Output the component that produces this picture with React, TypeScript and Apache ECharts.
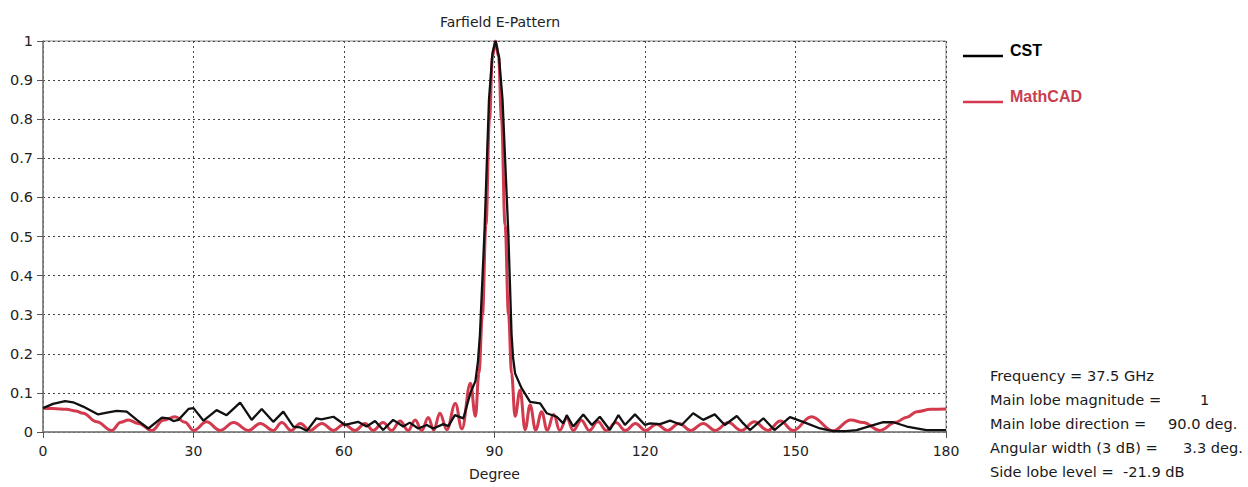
import React, { useEffect, useRef } from "react";
import * as echarts from "echarts";

const cstDegree = [0, 2, 4.4, 6, 8, 9.5, 11, 13, 14.7, 16.7, 18.7, 21, 23.7, 25, 26, 27, 29, 30, 32, 34.6, 36.6, 39.3, 41.6, 43.6, 45.9, 47.9, 49.9, 51.2, 52.6, 54.5, 55.5, 57.9, 60.2, 62.8, 64.5, 66.2, 67.8, 69.8, 71.8, 73.1, 74.8, 76.5, 77.8, 79.8, 80.8, 82.1, 83.8, 85.2, 86.2, 86.7, 87.1, 88.0, 88.9, 89.6, 90.2, 90.9, 91.6, 92.75, 93.4, 93.7, 94.1, 95.4, 97.1, 99.1, 100.4, 102.4, 103.7, 104.4, 105.7, 107.7, 109.4, 111, 113, 114.7, 116, 118, 120, 121, 123, 125, 127.3, 129.6, 131.6, 133.9, 135.9, 138.3, 139.3, 140.9, 143.6, 145.8, 148.9, 151.5, 154.9, 157.5, 160, 162.2, 164.8, 167.5, 169.5, 172.2, 176.1, 180];
const cstMagnitude = [0.061, 0.072, 0.079, 0.076, 0.065, 0.055, 0.045, 0.05, 0.054, 0.052, 0.031, 0.009, 0.037, 0.035, 0.028, 0.031, 0.059, 0.061, 0.029, 0.056, 0.043, 0.075, 0.031, 0.059, 0.026, 0.052, 0.014, 0.012, 0.003, 0.035, 0.032, 0.039, 0.018, 0.026, 0.014, 0.028, 0.005, 0.031, 0.014, 0.024, 0.009, 0.018, 0.009, 0.02, 0.015, 0.043, 0.035, 0.1, 0.13, 0.18, 0.25, 0.51, 0.85, 0.97, 1.0, 0.96, 0.85, 0.51, 0.25, 0.19, 0.15, 0.112, 0.077, 0.073, 0.048, 0.039, 0.022, 0.043, 0.014, 0.045, 0.018, 0.039, 0.005, 0.043, 0.018, 0.045, 0.018, 0.022, 0.02, 0.029, 0.018, 0.048, 0.031, 0.045, 0.018, 0.041, 0.026, 0.005, 0.035, 0.005, 0.038, 0.026, 0.009, 0.002, 0.002, 0.005, 0.015, 0.025, 0.025, 0.014, 0.005, 0.005];

const mathcadDegree = [0, 2, 4.7, 6.5, 8, 10.7, 13.7, 15.5, 17, 19, 21.7, 24, 26.3, 28.3, 30, 32.6, 35.3, 38, 41, 43.3, 45.9, 47.6, 49.5, 51.3, 53.2, 55.6, 57.9, 60, 62.2, 64.2, 65.8, 67.8, 69.5, 71.2, 72.8, 74.2, 75.5, 76.8, 77.9, 79.1, 80.5, 82.2, 83.5, 85.2, 86.2, 86.9, 87.6, 88.3, 89.0, 89.6, 90.2, 90.8, 91.4, 92.1, 92.8, 93.4, 94.1, 95.1, 96.1, 97.1, 98.2, 99.4, 100.5, 101.8, 103, 104.4, 105.7, 107.3, 108.9, 110.6, 112.3, 114.2, 116.1, 118.1, 120.1, 122.3, 124.5, 126.8, 129.1, 131.6, 134, 136.6, 139.2, 141.8, 144.5, 147, 149.5, 153.2, 157.5, 161, 163.5, 166.8, 170, 172.2, 174.2, 177, 180];
const mathcadMagnitude = [0.061, 0.06, 0.058, 0.054, 0.048, 0.026, 0.004, 0.025, 0.031, 0.022, 0.004, 0.03, 0.039, 0.025, 0.004, 0.026, 0.004, 0.024, 0.004, 0.022, 0.004, 0.024, 0.004, 0.022, 0.004, 0.022, 0.004, 0.02, 0.004, 0.022, 0.004, 0.024, 0.004, 0.028, 0.004, 0.031, 0.004, 0.037, 0.005, 0.048, 0.006, 0.073, 0.008, 0.125, 0.04, 0.15, 0.3, 0.53, 0.8, 0.96, 1.0, 0.96, 0.8, 0.53, 0.3, 0.15, 0.04, 0.107, 0.006, 0.069, 0.005, 0.052, 0.004, 0.045, 0.004, 0.035, 0.004, 0.03, 0.004, 0.027, 0.004, 0.024, 0.004, 0.022, 0.004, 0.02, 0.004, 0.022, 0.004, 0.022, 0.004, 0.024, 0.004, 0.026, 0.004, 0.028, 0.004, 0.039, 0.003, 0.031, 0.024, 0.004, 0.025, 0.038, 0.052, 0.058, 0.059];

const seriesNames = ["CST", "MathCAD"];
const infoLines = [
  { label: "Frequency = 37.5 GHz", value: "" },
  { label: "Main lobe magnitude =", value: "1" },
  { label: "Main lobe direction =", value: "90.0 deg." },
  { label: "Angular width (3 dB) =", value: "3.3 deg." },
  { label: "Side lobe level =  -21.9 dB", value: "" },
];
const infoValueX = [0, 1200, 1168, 1183, 0];

const FONT = '"DejaVu Sans", Verdana, sans-serif';
const LEG_FONT = '"Liberation Sans", Arial, sans-serif';
const RED = "#d23a4e";

export default function App() {
  const ref = useRef<HTMLDivElement>(null);
  useEffect(() => {
    document.body.style.margin = "0";
    const chart = echarts.init(ref.current!, null, { renderer: "svg" });
    const cst = cstDegree.map((d, i) => [d, cstMagnitude[i]]);
    const mc = mathcadDegree.map((d, i) => [d, mathcadMagnitude[i]]);
    const graphics: any[] = [];
    graphics.push({ type: "line", shape: { x1: 963, y1: 56, x2: 1003, y2: 56 }, style: { stroke: "#000", lineWidth: 2.5 } });
    graphics.push({ type: "text", x: 1010, y: 58, style: { text: seriesNames[0], fill: "#000", fontSize: 16, fontWeight: "bold", fontFamily: LEG_FONT, verticalAlign: "bottom" } });
    graphics.push({ type: "line", shape: { x1: 963, y1: 102, x2: 1003, y2: 102 }, style: { stroke: RED, lineWidth: 2.5 } });
    graphics.push({ type: "text", x: 1010, y: 104, style: { text: seriesNames[1], fill: "#c8404f", fontSize: 16, fontWeight: "bold", fontFamily: LEG_FONT, verticalAlign: "bottom" } });
    infoLines.forEach((l, i) => {
      const y = 375 + i * 24.2;
      graphics.push({ type: "text", x: 990, y, style: { text: l.label, fill: "#1a1a1a", fontSize: 14.6, fontFamily: FONT, verticalAlign: "middle" } });
      if (l.value) graphics.push({ type: "text", x: infoValueX[i], y, style: { text: l.value, fill: "#1a1a1a", fontSize: 14.6, fontFamily: FONT, verticalAlign: "middle" } });
    });
    chart.setOption({
      animation: false,
      backgroundColor: "#fff",
      title: { text: "Farfield E-Pattern", left: 495, top: 10, textAlign: "center", textStyle: { fontSize: 14, fontWeight: "normal", fontFamily: FONT, color: "#222" } },
      grid: { left: 43, right: 302, top: 41, bottom: 55, show: true, borderColor: "#8a8a8a", borderWidth: 1 },
      xAxis: {
        type: "value", min: 0, max: 180, interval: 30,
        name: "Degree", nameLocation: "middle", nameGap: 35,
        nameTextStyle: { fontSize: 14, fontFamily: FONT, color: "#222" },
        axisLine: { show: true, onZero: false, lineStyle: { color: "#7a7a7a", width: 1.5 } },
        axisTick: { show: true, length: 6, lineStyle: { color: "#555" } },
        axisLabel: { margin: 12, fontSize: 14, fontFamily: FONT, color: "#222" },
        splitLine: { show: true, lineStyle: { color: "#444", type: [2, 3], width: 1 } },
      },
      yAxis: {
        type: "value", min: 0, max: 1, interval: 0.1,
        axisLine: { show: true, lineStyle: { color: "#7a7a7a", width: 1.5 } },
        axisTick: { show: true, length: 6, lineStyle: { color: "#555" } },
        axisLabel: { margin: 10, fontSize: 14.5, fontFamily: FONT, color: "#222", formatter: (v: number) => String(Math.round(v * 10) / 10) },
        splitLine: { show: true, lineStyle: { color: "#444", type: [2, 3], width: 1 } },
      },
      series: [
        { name: seriesNames[1], type: "line", data: mc, showSymbol: false, smooth: 0.4, smoothMonotone: "x", lineStyle: { color: RED, width: 3 }, z: 2 },
        { name: seriesNames[0], type: "line", data: cst, showSymbol: false, lineStyle: { color: "#111", width: 2.3 }, z: 3 },
      ],
      graphic: graphics,
    });
    return () => chart.dispose();
  }, []);
  return <div ref={ref} style={{ width: 1248, height: 487 }} />;
}
